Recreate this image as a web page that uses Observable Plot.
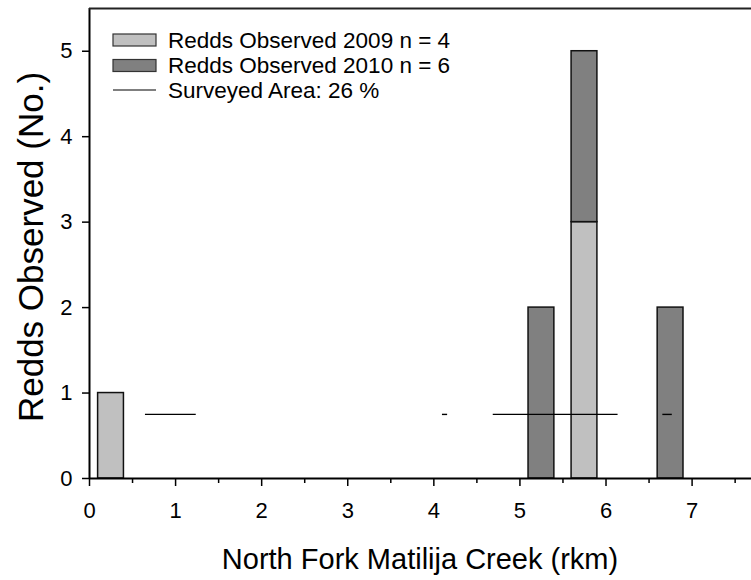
<!DOCTYPE html>
<html>
<head>
<meta charset="utf-8">
<script src="https://cdn.jsdelivr.net/npm/d3@7"></script>
<script src="https://cdn.jsdelivr.net/npm/@observablehq/plot@0.6"></script>
<style>
  html, body { margin: 0; padding: 0; background: #fff; overflow: hidden; }
  #chart { width: 751px; height: 580px; }
</style>
</head>
<body>
<div id="chart"></div>
<script>
// River-km bins (each 0.3 rkm wide) holding redds
const binStart = [0.1, 5.1, 5.6, 6.6];
const binEnd   = [0.4, 5.4, 5.9, 6.9];
const redds2009 = [1, 0, 3, 0];
const redds2010 = [0, 2, 2, 2];

// Stretches of creek that were surveyed (rkm)
const surveyStart = [0.65, 4.10, 4.69, 6.66];
const surveyEnd   = [1.24, 4.16, 6.14, 6.77];
const surveyLevel = 0.75;

const yTicks = [0, 1, 2, 3, 4, 5];
const xTicks = [0, 1, 2, 3, 4, 5, 6, 7];
const xMinorTicks = [0.5, 1.5, 2.5, 3.5, 4.5, 5.5, 6.5, 7.5];

const legendLabels = [
  "Redds Observed 2009 n = 4",
  "Redds Observed 2010 n = 6",
  "Surveyed Area: 26 %"
];

const fill2009 = "#c0c0c0";
const fill2010 = "#808080";

// 2009 redds sit at the bottom, 2010 redds are stacked on top
const bars2009 = binStart.map((s, i) => ({x1: s, x2: binEnd[i], y1: 0, y2: redds2009[i]}))
  .filter(d => d.y2 > 0);
const bars2010 = binStart.map((s, i) => ({x1: s, x2: binEnd[i], y1: redds2009[i], y2: redds2009[i] + redds2010[i]}))
  .filter(d => d.y2 > d.y1);
const survey = surveyStart.map((s, i) => ({x1: s, x2: surveyEnd[i], y: surveyLevel}));

const font = "'Liberation Sans', Arial, Helvetica, sans-serif";

const chart = Plot.plot({
  width: 751,
  height: 580,
  marginLeft: 89,
  marginRight: 0,
  marginTop: 8,
  marginBottom: 102,
  x: {domain: [0, 7.69]},
  y: {domain: [0, 5.5]},
  style: {fontFamily: font, color: "#000", background: "#fff", overflow: "visible"},
  marks: [
    Plot.rect(bars2009, {x1: "x1", x2: "x2", y1: "y1", y2: "y2", fill: fill2009, stroke: "#111", strokeWidth: 1.5}),
    Plot.rect(bars2010, {x1: "x1", x2: "x2", y1: "y1", y2: "y2", fill: fill2010, stroke: "#111", strokeWidth: 1.5}),
    Plot.ruleY(survey, {x1: "x1", x2: "x2", y: "y", stroke: "#000", strokeWidth: 1.4}),
    Plot.ruleX([0], {stroke: "#000", strokeWidth: 2}),
    Plot.ruleY([0], {stroke: "#000", strokeWidth: 2}),
    Plot.ruleY([5.5], {stroke: "#222", strokeWidth: 2}),
    Plot.axisY({ticks: yTicks, tickFormat: d => String(d), tickSize: 7, tickPadding: 10, fontSize: 22, label: null, strokeWidth: 1.5}),
    Plot.axisX({ticks: xTicks, tickFormat: d => String(d), tickSize: 8, tickPadding: 16, fontSize: 22, label: null, strokeWidth: 1.5}),
    Plot.axisX({ticks: xMinorTicks, tickSize: 5, text: null, label: null, strokeWidth: 1.5})
  ]
});

document.getElementById("chart").appendChild(chart);

const svg = d3.select(chart);

// Axis titles
svg.append("text")
  .attr("x", 420).attr("y", 569)
  .attr("text-anchor", "middle")
  .attr("font-family", font).style("font-size", "29px")
  .attr("fill", "#000")
  .text("North Fork Matilija Creek (rkm)");

svg.append("text")
  .attr("transform", "translate(43,247) rotate(-90)")
  .attr("text-anchor", "middle")
  .attr("font-family", font).style("font-size", "35px")
  .attr("fill", "#000")
  .text("Redds Observed (No.)");

// Legend
const legend = svg.append("g")
  .attr("font-family", font).attr("text-anchor", "start");
const rowY = [40, 65.5, 90];
legend.append("rect").attr("x", 113).attr("y", rowY[0] - 6).attr("width", 43).attr("height", 12)
  .attr("fill", fill2009).attr("stroke", "#333").attr("stroke-width", 1.2);
legend.append("rect").attr("x", 113).attr("y", rowY[1] - 6).attr("width", 43).attr("height", 12)
  .attr("fill", fill2010).attr("stroke", "#333").attr("stroke-width", 1.2);
legend.append("line").attr("x1", 113).attr("x2", 156).attr("y1", rowY[2]).attr("y2", rowY[2])
  .attr("stroke", "#000").attr("stroke-width", 1.2);
legendLabels.forEach((t, i) => {
  legend.append("text").attr("x", 168).attr("y", rowY[i] + 7.5).attr("fill", "#000")
    .style("font-size", "22.5px").text(t);
});
</script>
</body>
</html>
